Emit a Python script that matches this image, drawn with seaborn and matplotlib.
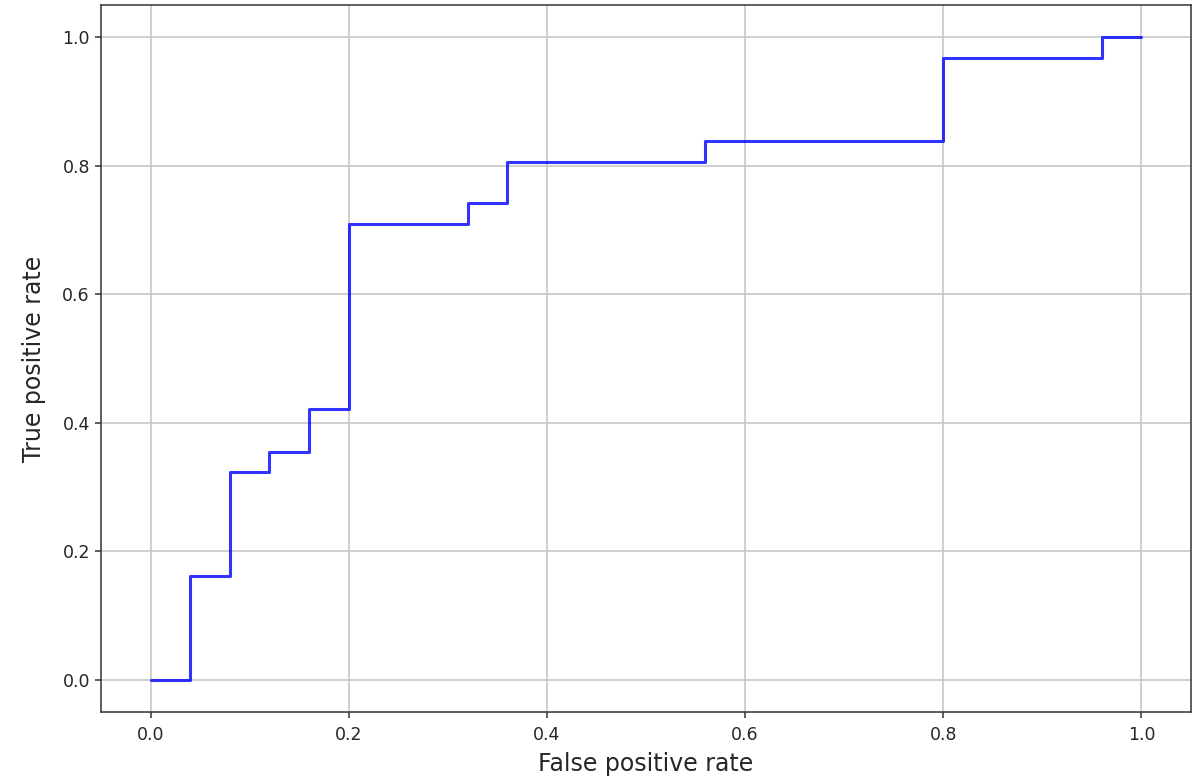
import matplotlib
matplotlib.use("Agg")
import matplotlib.pyplot as plt
import seaborn as sns
import pandas as pd

fpr = [0.0, 0.04, 0.04, 0.08, 0.08, 0.12, 0.12, 0.16, 0.16, 0.20, 0.20,
       0.32, 0.32, 0.36, 0.36, 0.56, 0.56, 0.80, 0.80, 0.96, 0.96, 1.0]
tpr = [0.0, 0.0, 0.161, 0.161, 0.323, 0.323, 0.355, 0.355, 0.422, 0.422, 0.710,
       0.710, 0.742, 0.742, 0.806, 0.806, 0.839, 0.839, 0.968, 0.968, 1.0, 1.0]

sns.set_style("ticks")
plt.rcParams['font.family'] = ['DejaVu Sans']

df = pd.DataFrame({"fpr": fpr, "tpr": tpr})

fig = plt.figure(figsize=(12.03, 7.79), dpi=100)
ax = fig.add_axes([101/1203, 1 - 712/779, 1090/1203, 707/779])
sns.lineplot(data=df, x="fpr", y="tpr", sort=False, estimator=None,
             color="blue", alpha=0.8, linewidth=2.2, ax=ax)
ax.set_xlim(-0.05, 1.05)
ax.set_ylim(-0.05, 1.05)
ax.set_xticks([0.0, 0.2, 0.4, 0.6, 0.8, 1.0])
ax.set_yticks([0.0, 0.2, 0.4, 0.6, 0.8, 1.0])
ax.grid(True, color="#c4c4c4", linewidth=1.1)
ax.set_axisbelow(True)
for s in ax.spines.values():
    s.set_visible(True)
    s.set_color("#333333")
    s.set_linewidth(1.1)
ax.tick_params(labelsize=12.5, length=4, width=1.1, colors="#333333",
               labelcolor="#262626", pad=4)
ax.tick_params(axis="x", pad=6)
ax.set_xlabel("False positive rate", fontsize=17, color="#262626", labelpad=6)
ax.set_ylabel("True positive rate", fontsize=17, color="#262626", labelpad=12)
fig.savefig("out.png", dpi=100)
